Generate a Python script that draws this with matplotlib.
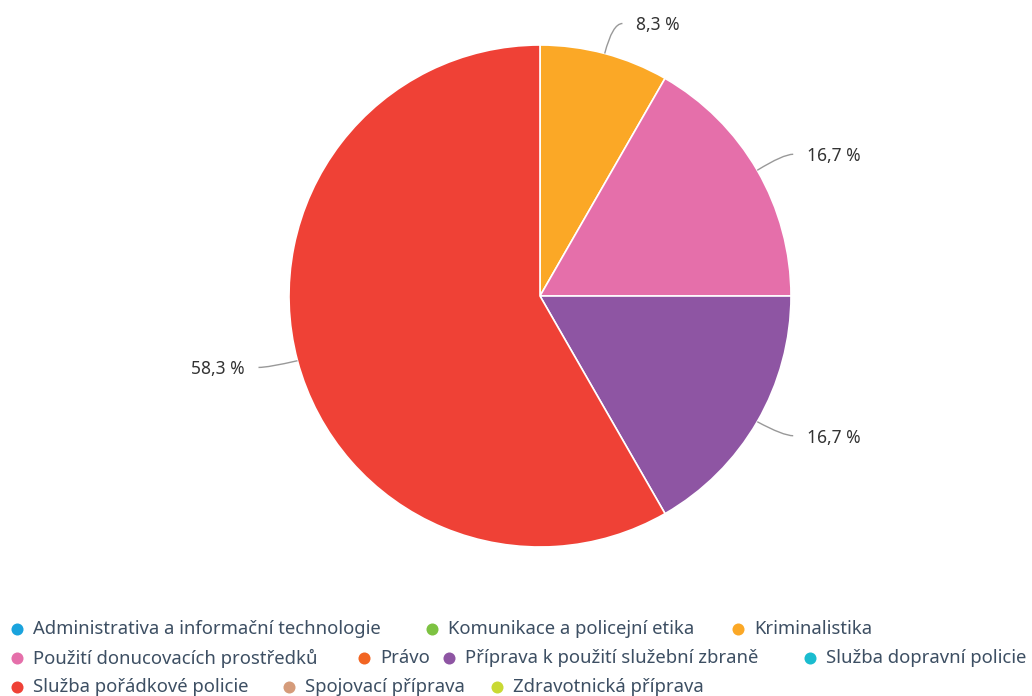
import numpy as np
import matplotlib
matplotlib.use('Agg')
import matplotlib.pyplot as plt
from matplotlib.path import Path
from matplotlib.patches import PathPatch

# data
subjects = ['Administrativa a informační technologie',
            'Komunikace a policejní etika',
            'Kriminalistika',
            'Použití donucovacích prostředků',
            'Právo',
            'Příprava k použití služební zbraně',
            'Služba dopravní policie',
            'Služba pořádkové policie',
            'Spojovací příprava',
            'Zdravotnická příprava']
shares = [0.0, 0.0, 8.3, 16.7, 0.0, 16.7, 0.0, 58.3, 0.0, 0.0]
colors = ['#1aa3dd', '#7dc242', '#fba826', '#e56faa', '#f26522',
          '#8e55a3', '#1abccf', '#ef4136', '#d59b7a', '#c9d934']

# legend layout (pixel x of marker centre, row)
legend_pos = [(17, 0), (432, 0), (738, 0),
              (17, 1), (364, 1), (449, 1), (810, 1),
              (17, 2), (289, 2), (497, 2)]
row_y = [629, 658, 687]

W, H = 1032, 696
plt.rcParams['font.family'] = ['Noto Sans', 'DejaVu Sans']

fig = plt.figure(figsize=(W/100, H/100), dpi=100)
ax = fig.add_axes([0, 0, 1, 1])

cx, cy, r = 540, H - 296, 251
vals = np.array(shares)
nz = vals > 0
wedges, _ = ax.pie(vals[nz], colors=np.array(colors)[nz], startangle=90,
                   counterclock=False, center=(cx, cy), radius=r,
                   wedgeprops=dict(edgecolor='white', linewidth=1.2))
ax.set_xlim(0, W)
ax.set_ylim(0, H)
ax.set_aspect('equal')
ax.axis('off')

# data labels with curved connectors
for w, v in zip(wedges, vals[nz]):
    ang = np.deg2rad((w.theta1 + w.theta2) / 2)
    ca, sa = np.cos(ang), np.sin(ang)
    x0, y0 = cx + r*ca, cy + r*sa
    x1, y1 = cx + (r + 30)*ca, cy + (r + 30)*sa + 1
    side = 1 if ca >= 0 else -1
    x2 = x1 + side*10
    path = Path([(x0, y0), (x1, y1), (x2, y1)],
                [Path.MOVETO, Path.CURVE3, Path.CURVE3])
    ax.add_patch(PathPatch(path, fc='none', ec='#999999', lw=1.0))
    txt = f'{v:.1f} %'.replace('.', ',')
    ax.text(x1 + side*24, y1 - 2, txt, ha='left' if side > 0 else 'right',
            va='center', fontsize=12.5, color='#333333')

# legend
for name, col, (lx, row) in zip(subjects, colors, legend_pos):
    y = H - row_y[row]
    ax.scatter([lx], [y], s=75, color=col, linewidths=0)
    ax.text(lx + 16, y, name, ha='left', va='center', fontsize=13.3,
            color='#3d4f63')

fig.savefig('out.png', dpi=100)
